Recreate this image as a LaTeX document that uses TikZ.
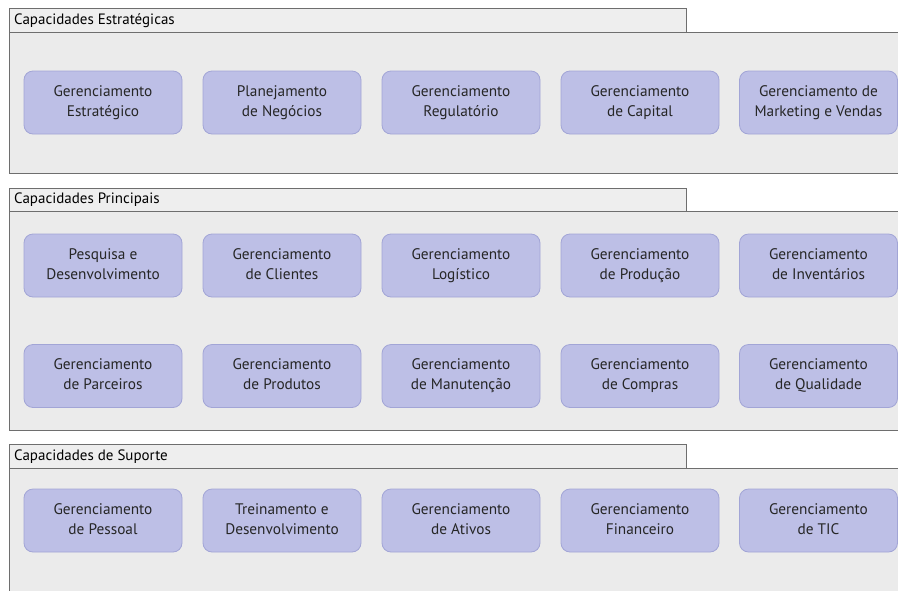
\documentclass[tikz,border=0pt]{standalone}
\usepackage{fontspec}
\setmainfont{PT Sans}
\definecolor{panelfill}{HTML}{EBEBEB}
\definecolor{tabfill}{HTML}{EEEEEE}
\definecolor{panelline}{HTML}{6E6E6E}
\definecolor{boxfill}{HTML}{BDBFE6}
\definecolor{boxline}{HTML}{A2A5D6}
\definecolor{textgray}{HTML}{262626}
\begin{document}
\begin{tikzpicture}[x=1pt,y=-1pt,
  panelbody/.style={draw=panelline, fill=panelfill, line width=1pt},
  paneltab/.style={draw=panelline, fill=tabfill, line width=1pt},
  tablabel/.style={anchor=west, inner sep=0pt, text=black,
    font=\fontsize{15}{18}\selectfont},
  capbox/.style={draw=boxline, fill=boxfill, line width=0.8pt,
    rounded corners=9pt, minimum width=158pt, minimum height=63pt,
    inner sep=0pt, align=center, text=textgray,
    text height=31pt, text depth=4pt,
    font=\fontsize{15.3}{20}\selectfont}]
\useasboundingbox (0,0) rectangle (898,590);
\fill[white] (0,0) rectangle (898,590);
\begin{scope}
\clip (0,0) rectangle (898,590);
% panel frames: body runs off the right and bottom edges
\draw[panelbody] (9,32) rectangle (910,173);
\draw[paneltab] (9,8) rectangle (686,32);
\draw[panelbody] (9,211) rectangle (910,430);
\draw[paneltab] (9,188) rectangle (686,211);
\draw[panelbody] (9,468.5) rectangle (910,600);
\draw[paneltab] (9,444.5) rectangle (686,468.5);
\end{scope}
% panel titles
\node[tablabel] (t1) at (14,20.5) {Capacidades Estratégicas};
\node[tablabel] (t2) at (14,200) {Capacidades Principais};
\node[tablabel] (t3) at (14,457) {Capacidades de Suporte};
% strategic capabilities
\node[capbox] (s1) at (103,102.5) {Gerenciamento\\Estratégico};
\node[capbox] (s2) at (282,102.5) {Planejamento\\de Negócios};
\node[capbox] (s3) at (461,102.5) {Gerenciamento\\Regulatório};
\node[capbox] (s4) at (640,102.5) {Gerenciamento\\de Capital};
\node[capbox] (s5) at (818.5,102.5) {Gerenciamento de\\Marketing e Vendas};
% core capabilities
\node[capbox] (c1) at (103,265.5) {Pesquisa e\\Desenvolvimento};
\node[capbox] (c2) at (282,265.5) {Gerenciamento\\de Clientes};
\node[capbox] (c3) at (461,265.5) {Gerenciamento\\Logístico};
\node[capbox] (c4) at (640,265.5) {Gerenciamento\\de Produção};
\node[capbox] (c5) at (818.5,265.5) {Gerenciamento\\de Inventários};
\node[capbox] (c6) at (103,376) {Gerenciamento\\de Parceiros};
\node[capbox] (c7) at (282,376) {Gerenciamento\\de Produtos};
\node[capbox] (c8) at (461,376) {Gerenciamento\\de Manutenção};
\node[capbox] (c9) at (640,376) {Gerenciamento\\de Compras};
\node[capbox] (c10) at (818.5,376) {Gerenciamento\\de Qualidade};
% support capabilities
\node[capbox] (u1) at (103,520.5) {Gerenciamento\\de Pessoal};
\node[capbox] (u2) at (282,520.5) {Treinamento e\\Desenvolvimento};
\node[capbox] (u3) at (461,520.5) {Gerenciamento\\de Ativos};
\node[capbox] (u4) at (640,520.5) {Gerenciamento\\Financeiro};
\node[capbox] (u5) at (818.5,520.5) {Gerenciamento\\de TIC};
\end{tikzpicture}
\end{document}
